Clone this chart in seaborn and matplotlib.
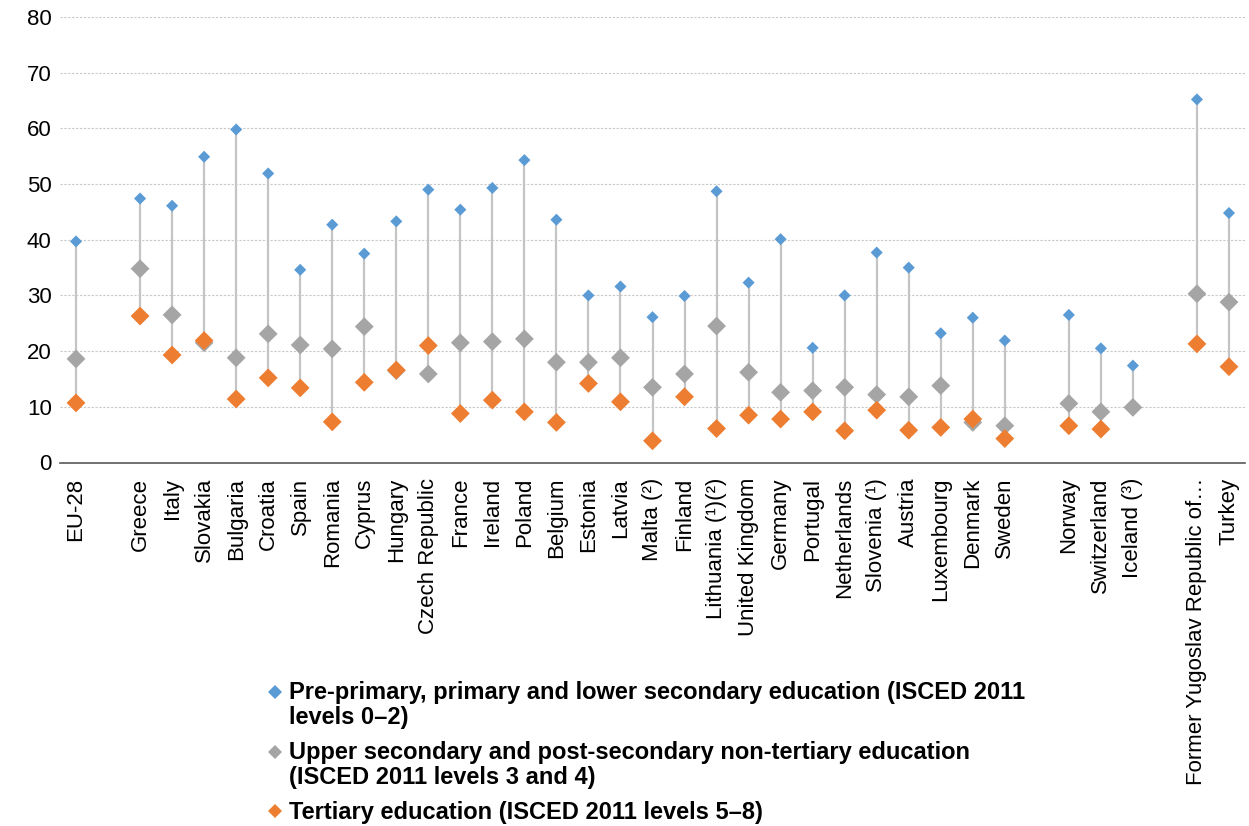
import numpy as np
import pandas as pd
import matplotlib
matplotlib.use("Agg")
import matplotlib.pyplot as plt
from matplotlib.lines import Line2D
from matplotlib.legend_handler import HandlerLine2D
from matplotlib.transforms import Affine2D
import seaborn as sns

nan = np.nan

# Countries (blank entries are spacer slots between country groups)
categories = [
    "EU-28", "", "Greece", "Italy", "Slovakia", "Bulgaria", "Croatia", "Spain",
    "Romania", "Cyprus", "Hungary", "Czech Republic", "France", "Ireland",
    "Poland", "Belgium", "Estonia", "Latvia", "Malta (²)", "Finland",
    "Lithuania (¹)(²)", "United Kingdom", "Germany", "Portugal", "Netherlands",
    "Slovenia (¹)", "Austria", "Luxembourg", "Denmark", "Sweden", "",
    "Norway", "Switzerland", "Iceland (³)", "", "Former Yugoslav Republic of…",
    "Turkey",
]

# Share (%) by highest level of education attained
lower_secondary = [
    39.7, nan, 47.4, 46.1, 54.9, 59.8, 51.9, 34.6, 42.7, 37.5, 43.3, 49.0,
    45.4, 49.3, 54.3, 43.6, 30.0, 31.6, 26.1, 29.9, 48.7, 32.3, 40.1, 20.6,
    30.0, 37.7, 35.0, 23.2, 26.0, 21.9, nan, 26.5, 20.5, 17.4, nan, 65.2, 44.8,
]
upper_secondary = [
    18.6, nan, 34.8, 26.5, 21.5, 18.8, 23.1, 21.1, 20.4, 24.4, 16.5, 15.9,
    21.5, 21.7, 22.2, 18.0, 18.0, 18.8, 13.5, 15.9, 24.5, 16.2, 12.6, 12.9,
    13.5, 12.2, 11.8, 13.8, 7.2, 6.6, nan, 10.6, 9.1, 9.9, nan, 30.3, 28.8,
]
tertiary = [
    10.7, nan, 26.3, 19.3, 21.9, 11.4, 15.2, 13.4, 7.3, 14.4, 16.6, 21.0,
    8.8, 11.2, 9.1, 7.2, 14.2, 10.9, 3.9, 11.8, 6.1, 8.5, 7.8, 9.1,
    5.7, 9.4, 5.8, 6.3, 7.8, 4.3, nan, 6.6, 6.0, nan, nan, 21.3, 17.2,
]

series_names = [
    "Pre-primary, primary and lower secondary education (ISCED 2011\nlevels 0–2)",
    "Upper secondary and post-secondary non-tertiary education\n(ISCED 2011 levels 3 and 4)",
    "Tertiary education (ISCED 2011 levels 5–8)",
]
colors = ["#5B9BD5", "#A5A5A5", "#ED7D31"]
y_ticks = [0, 10, 20, 30, 40, 50, 60, 70, 80]

sns.set_theme(style="white")
plt.rcParams["font.family"] = ["Liberation Sans", "DejaVu Sans"]

pos = np.arange(len(categories))
frames = []
for name, vals in zip(series_names, [lower_secondary, upper_secondary, tertiary]):
    frames.append(pd.DataFrame({"pos": pos, "value": vals, "level": name}))
df = pd.concat(frames, ignore_index=True).dropna(subset=["value"])

fig = plt.figure(figsize=(12.49, 8.26), dpi=100)
ax = fig.add_axes([60 / 1249, 1 - 462.5 / 826, 1185 / 1249, (462.5 - 17) / 826])

# High-low connectors between the extreme values of each country
wide = pd.DataFrame({"lo": lower_secondary, "up": upper_secondary, "te": tertiary}, index=pos)
span = wide.dropna(how="all")
ax.vlines(span.index, span.min(axis=1), span.max(axis=1),
          color="#C4C4C4", linewidth=1.6, zorder=2)

sns.scatterplot(
    data=df, x="pos", y="value", hue="level", size="level",
    palette=dict(zip(series_names, colors)),
    sizes=dict(zip(series_names, [38, 92, 92])),
    marker="D", linewidth=0, legend=False, ax=ax, zorder=3,
)

ax.set_xlim(-0.5, len(categories) - 0.5)
ax.set_ylim(0, 80)
ax.set_yticks(y_ticks)
ax.set_yticklabels([str(t) for t in y_ticks], fontsize=16, color="#000000")
ax.set_xticks(pos)
ax.set_xticklabels(categories, rotation=90, fontsize=16, color="#000000", va="top")
ax.set_xticks(np.arange(-0.5, len(categories), 1), minor=True)
ax.tick_params(axis="x", which="major", length=0, pad=11)
ax.tick_params(axis="x", which="minor", length=6, width=1, color="#595959", direction="out")
ax.tick_params(axis="y", length=0, pad=6)
ax.set_xlabel("")
ax.set_ylabel("")

ax.yaxis.grid(True, linestyle=(0, (2, 1.5)), color="#C8C8C8", linewidth=0.8)
ax.set_axisbelow(True)
for side in ["top", "right", "left"]:
    ax.spines[side].set_visible(False)
ax.spines["bottom"].set_color("#595959")
ax.spines["bottom"].set_linewidth(1.2)
ax.spines["bottom"].set_zorder(4)


class FirstLineHandler(HandlerLine2D):
    """Places the legend marker next to the first line of a wrapped label."""

    def __init__(self, dy=0.0, **kw):
        super().__init__(**kw)
        self.dy = dy

    def create_artists(self, legend, orig_handle, xdescent, ydescent,
                       width, height, fontsize, trans):
        artists = super().create_artists(legend, orig_handle, xdescent, ydescent,
                                         width, height, fontsize, trans)
        for a in artists:
            a.set_transform(Affine2D().translate(0, self.dy) + trans)
        return artists


handles = [Line2D([], [], marker="D", linestyle="none", markersize=7,
                  markerfacecolor=c, markeredgewidth=0) for c in colors]
handler_map = {h: FirstLineHandler(dy=(9.8 if "\n" in n else 0.0))
               for h, n in zip(handles, series_names)}
leg = fig.legend(handles, series_names, loc="upper left",
                 bbox_to_anchor=(268 / 1249, 1 - 681 / 826), frameon=False,
                 prop={"size": 17, "weight": "bold"}, handlelength=0.6,
                 handletextpad=0.3, labelspacing=0.5, borderpad=0,
                 borderaxespad=0, handler_map=handler_map)
for t in leg.get_texts():
    t.set_color("#000000")
    t.set_linespacing(1.13)

fig.savefig("out.png", dpi=100)
